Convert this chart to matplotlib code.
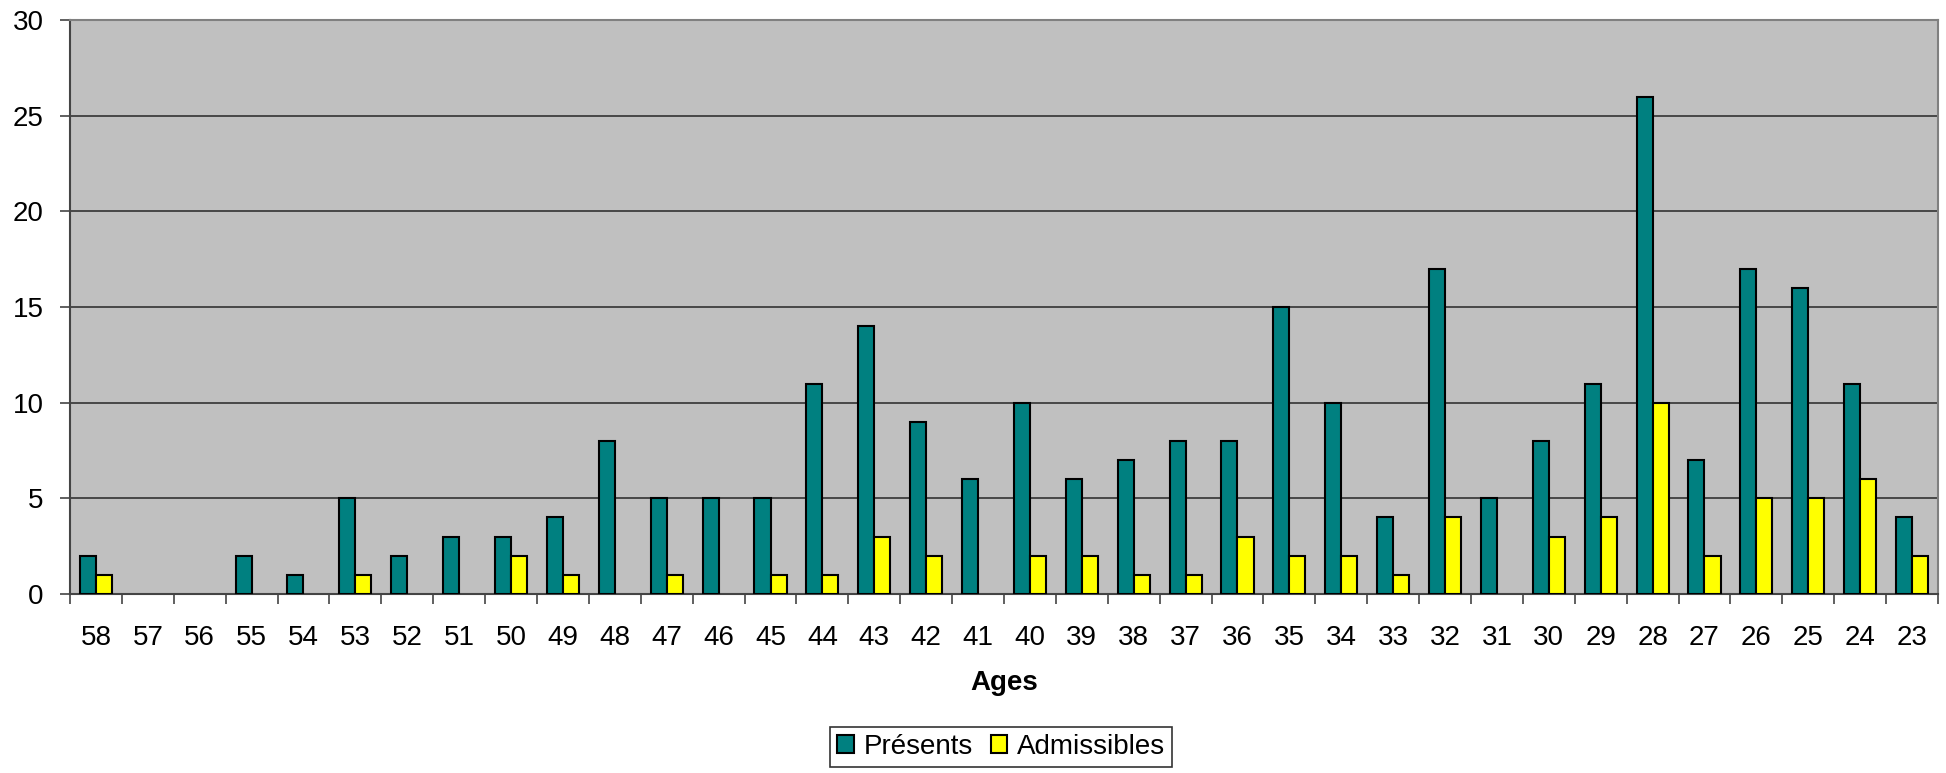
import matplotlib.pyplot as plt
import numpy as np

plt.rcParams['font.family'] = ['Liberation Sans', 'DejaVu Sans']

# ages from oldest to youngest
ages = [58, 57, 56, 55, 54, 53, 52, 51, 50, 49, 48, 47, 46, 45, 44, 43, 42, 41,
        40, 39, 38, 37, 36, 35, 34, 33, 32, 31, 30, 29, 28, 27, 26, 25, 24, 23]
presents = [2, 0, 0, 2, 1, 5, 2, 3, 3, 4, 8, 5, 5, 5, 11, 14, 9, 6,
            10, 6, 7, 8, 8, 15, 10, 4, 17, 5, 8, 11, 26, 7, 17, 16, 11, 4]
admissibles = [1, 0, 0, 0, 0, 1, 0, 0, 2, 1, 0, 1, 0, 1, 1, 3, 2, 0,
               2, 2, 1, 1, 3, 2, 2, 1, 4, 0, 3, 4, 10, 2, 5, 5, 6, 2]

fig = plt.figure(figsize=(19.46, 7.73), dpi=100)
ax = fig.add_axes([70 / 1946, 1 - 594 / 773, (1938 - 70) / 1946, (594 - 20) / 773])
ax.set_facecolor('#c0c0c0')

# empty counts get no bar outline at all
p = np.array(presents, dtype=float)
a = np.array(admissibles, dtype=float)
p[p == 0] = np.nan
a[a == 0] = np.nan

x = np.arange(len(ages))
w = 0.31
ax.bar(x - w / 2, p, w, color='#008080', edgecolor='black', linewidth=1.5,
       label='Présents', zorder=3)
ax.bar(x + w / 2, a, w, color='#ffff00', edgecolor='black', linewidth=1.5,
       label='Admissibles', zorder=3)

ax.set_xlim(-0.5, len(ages) - 0.5)
ax.set_ylim(0, 30)
ax.set_yticks(range(0, 31, 5))
ax.yaxis.grid(True, color='#333333', linewidth=1.2, zorder=1)

# category labels centred, tick marks on the boundaries
ax.set_xticks(x)
ax.set_xticklabels([str(v) for v in ages])
ax.tick_params(axis='x', which='major', length=0, pad=22, labelsize=20)
ax.set_xticks(np.arange(-0.5, len(ages)), minor=True)
ax.tick_params(axis='x', which='minor', length=7, width=1.2, color='#444444')
ax.tick_params(axis='y', length=7, width=1.2, color='#444444', pad=12, labelsize=20)

for s in ['left', 'bottom']:
    ax.spines[s].set_color('#444444')
    ax.spines[s].set_linewidth(1.5)
for s in ['top', 'right']:
    ax.spines[s].set_color('#808080')
    ax.spines[s].set_linewidth(1.5)

ax.set_xlabel('Ages', fontsize=20, fontweight='bold', labelpad=14)

leg = fig.legend(loc='upper center', bbox_to_anchor=(1001 / 1946, 1 - 727 / 773),
                 ncol=2, fontsize=20, frameon=True, fancybox=False,
                 handlelength=0.6, handleheight=0.6, handletextpad=0.35,
                 columnspacing=0.65, borderpad=0.25, borderaxespad=0)
leg.get_frame().set_edgecolor('black')
leg.get_frame().set_linewidth(1.2)

fig.savefig('out.png', dpi=100)
